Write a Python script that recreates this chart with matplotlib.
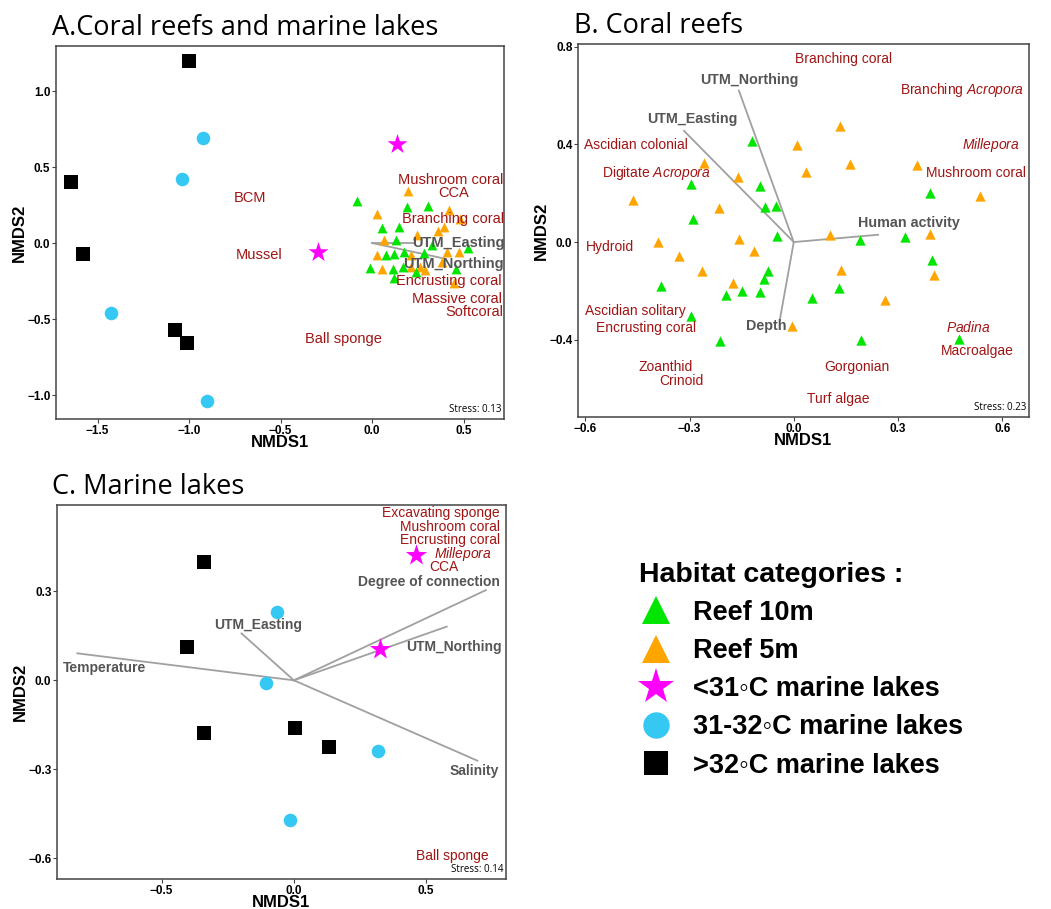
import numpy as np
import matplotlib.pyplot as plt
from matplotlib.lines import Line2D

plt.rcParams['font.family'] = ['Liberation Sans', 'DejaVu Sans']
plt.rcParams['mathtext.fontset'] = 'custom'
plt.rcParams['mathtext.rm'] = 'Liberation Sans'
plt.rcParams['mathtext.it'] = 'Liberation Sans:italic'

GREEN = '#00e600'
ORANGE = '#ffa500'
MAGENTA = '#ff00ff'
BLUE = '#35c8f2'
BLACK = '#000000'
SPECIES = '#a01414'
VECTOR = '#555555'
LINE = '#a0a0a0'

# ---- A. Coral reefs and marine lakes ----
a_reef10_x = [-0.083, 0.19, 0.306, 0.052, 0.148, 0.13, 0.324, 0.524, 0.074, 0.12, 0.176, 0.283,
              -0.013, 0.111, 0.167, 0.241, 0.12, 0.459]
a_reef10_y = [0.279, 0.236, 0.247, 0.098, 0.105, 0.022, -0.015, -0.031, -0.081, -0.07, -0.059, -0.066,
              -0.162, -0.17, -0.157, -0.19, -0.227, -0.168]
a_reef5_x = [0.194, 0.028, 0.417, 0.481, 0.246, 0.361, 0.394, 0.065, 0.024, 0.056, 0.213, 0.407,
             0.472, 0.259, 0.287, 0.38, 0.444, 0.213]
a_reef5_y = [0.345, 0.192, 0.218, 0.159, 0.05, 0.079, 0.105, 0.022, -0.081, -0.168, -0.081, -0.059,
             -0.059, -0.157, -0.175, -0.124, -0.266, -0.157]
a_lt31_x = [0.135, -0.296]
a_lt31_y = [0.655, -0.059]
a_31_32_x = [-0.926, -1.041, -1.428, -0.902]
a_31_32_y = [0.694, 0.419, -0.463, -1.041]
a_gt32_x = [-1.0, -1.644, -1.578, -1.078, -1.009]
a_gt32_y = [1.197, 0.404, -0.074, -0.572, -0.659]
a_species = ['Mushroom coral', 'CCA', 'BCM', 'Branching coral', 'Mussel', 'Encrusting coral',
             'Massive coral', 'Softcoral', 'Ball sponge']
a_species_x = [0.426, 0.444, -0.667, 0.439, -0.62, 0.42, 0.465, 0.556, -0.157]
a_species_y = [0.417, 0.328, 0.297, 0.159, -0.081, -0.251, -0.369, -0.452, -0.633]
a_vectors = ['UTM_Easting', 'UTM_Northing']
a_vec_x = [0.22, 0.398]
a_vec_y = [0.0, -0.103]
a_vec_label_x = [0.472, 0.444]
a_vec_label_y = [0.0, -0.135]

# ---- B. Coral reefs ----
b_reef5_x = [0.132, 0.008, -0.258, 0.163, 0.035, -0.16, 0.356, -0.463, -0.215, 0.536, -0.391,
             -0.158, 0.104, 0.392, -0.114, -0.33, -0.264, 0.137, 0.404, -0.175, 0.262, -0.004]
b_reef5_y = [0.476, 0.399, 0.326, 0.319, 0.289, 0.266, 0.314, 0.173, 0.138, 0.19, 0.0, 0.014,
             0.027, 0.034, -0.038, -0.056, -0.12, -0.116, -0.137, -0.168, -0.236, -0.343]
b_reef10_x = [-0.12, -0.295, -0.096, -0.084, -0.05, -0.29, -0.047, 0.19, 0.32, 0.392, 0.399, -0.074,
              -0.086, -0.381, -0.194, -0.148, -0.096, 0.053, 0.13, -0.295, -0.213, 0.195, 0.476]
b_reef10_y = [0.416, 0.238, 0.231, 0.142, 0.149, 0.096, 0.023, 0.01, 0.02, 0.201, -0.072, -0.12,
              -0.152, -0.179, -0.216, -0.202, -0.206, -0.229, -0.188, -0.302, -0.407, -0.403, -0.397]
b_species = ['Branching coral', 'Branching $\\mathit{Acropora}$', 'Ascidian colonial', '$\\mathit{Millepora}$',
             'Digitate $\\mathit{Acropora}$', 'Mushroom coral', 'Hydroid', 'Ascidian solitary',
             'Encrusting coral', '$\\mathit{Padina}$', 'Macroalgae', 'Zoanthid', 'Crinoid', 'Gorgonian',
             'Turf algae']
b_species_x = [0.144, 0.485, -0.453, 0.567, -0.396, 0.524, -0.53, -0.456, -0.424, 0.502, 0.529,
               -0.37, -0.324, 0.183, 0.128]
b_species_y = [0.751, 0.624, 0.399, 0.396, 0.283, 0.283, -0.022, -0.284, -0.352, -0.349, -0.448,
               -0.512, -0.571, -0.512, -0.643]
b_vectors = ['UTM_Northing', 'UTM_Easting', 'Human activity', 'Depth']
b_vec_x = [-0.158, -0.316, 0.243, -0.04]
b_vec_y = [0.621, 0.456, 0.03, -0.318]
b_vec_label_x = [-0.129, -0.293, 0.331, -0.079]
b_vec_label_y = [0.665, 0.504, 0.078, -0.345]

# ---- C. Marine lakes ----
c_lt31_x = [0.462, 0.326]
c_lt31_y = [0.422, 0.106]
c_31_32_x = [-0.063, -0.104, 0.319, -0.015]
c_31_32_y = [0.231, -0.01, -0.238, -0.471]
c_gt32_x = [-0.341, -0.403, -0.341, 0.006, 0.134]
c_gt32_y = [0.4, 0.113, -0.179, -0.162, -0.226]
c_species = ['Excavating sponge', 'Mushroom coral', 'Encrusting coral', '$\\mathit{Millepora}$', 'CCA',
             'Ball sponge']
c_species_x = [0.556, 0.591, 0.591, 0.641, 0.566, 0.6]
c_species_y = [0.565, 0.518, 0.473, 0.425, 0.381, -0.592]
c_vectors = ['Temperature', 'UTM_Easting', 'Degree of connection', 'UTM_Northing', 'Salinity']
c_vec_x = [-0.819, -0.198, 0.726, 0.578, 0.694]
c_vec_y = [0.091, 0.158, 0.304, 0.181, -0.271]
c_vec_label_x = [-0.716, -0.135, 0.509, 0.606, 0.683]
c_vec_label_y = [0.043, 0.187, 0.33, 0.113, -0.306]

legend_labels = ['Reef 10m', 'Reef 5m', '<31\u25e6C marine lakes', '31-32\u25e6C marine lakes',
                 '>32\u25e6C marine lakes']


def style_axes(ax, title, xlim, ylim, xticks, yticks, stress):
    ax.set_xlim(xlim)
    ax.set_ylim(ylim)
    ax.set_xticks(xticks)
    ax.set_yticks(yticks)
    ax.set_xticklabels([('%.1f' % t).replace('-', '\u2212') for t in xticks])
    ax.set_yticklabels([('%.1f' % t).replace('-', '\u2212') for t in yticks])
    for s in ax.spines.values():
        s.set_color('#444444')
        s.set_linewidth(1.1)
    ax.tick_params(direction='out', length=3, width=0.8, color='#444444', labelsize=8.5, pad=1)
    for lab in ax.get_xticklabels() + ax.get_yticklabels():
        lab.set_fontweight('bold')
    ax.set_xlabel('NMDS1', fontsize=12, fontweight='bold', labelpad=-1)
    ax.set_ylabel('NMDS2', fontsize=12, fontweight='bold', labelpad=0)
    ax.set_title(title, fontsize=19.5, family='Open Sans', loc='left', x=-0.01, pad=8)
    ax.text(0.995, 0.01, 'Stress: ' + stress, transform=ax.transAxes, ha='right', va='bottom',
            fontsize=7, family='Open Sans')


def draw_vectors(ax, vx, vy, names, lx, ly, fs):
    for x, y in zip(vx, vy):
        ax.plot([0, x], [0, y], color=LINE, lw=1.3, zorder=1)
    for n, x, y in zip(names, lx, ly):
        ax.text(x, y, n, ha='center', va='center', color=VECTOR, fontsize=fs, fontweight='bold', zorder=5)


def draw_species(ax, names, sx, sy, fs):
    for n, x, y in zip(names, sx, sy):
        ax.text(x, y, n, ha='center', va='center', color=SPECIES, fontsize=fs, zorder=5)


fig = plt.figure(figsize=(10.51, 9.09), dpi=100)

# panel A
axA = fig.add_axes([0.0533, 0.539, 0.4263, 0.4103])
axA.scatter(a_reef5_x, a_reef5_y, marker='^', s=50, color=ORANGE, zorder=3, linewidths=0)
axA.scatter(a_reef10_x, a_reef10_y, marker='^', s=50, color=GREEN, zorder=3, linewidths=0)
axA.scatter(a_lt31_x, a_lt31_y, marker='*', s=230, color=MAGENTA, zorder=3, linewidths=0)
axA.scatter(a_31_32_x, a_31_32_y, marker='o', s=95, color=BLUE, zorder=3, linewidths=0)
axA.scatter(a_gt32_x, a_gt32_y, marker='s', s=95, color=BLACK, zorder=3, linewidths=0)
draw_vectors(axA, a_vec_x, a_vec_y, a_vectors, a_vec_label_x, a_vec_label_y, 10.5)
draw_species(axA, a_species, a_species_x, a_species_y, 10.5)
style_axes(axA, 'A.Coral reefs and marine lakes', (-1.727, 0.72), (-1.158, 1.296),
           [-1.5, -1.0, -0.5, 0.0, 0.5], [-1.0, -0.5, 0.0, 0.5, 1.0], '0.13')

# panel B
axB = fig.add_axes([0.55, 0.5413, 0.429, 0.4103])
axB.scatter(b_reef5_x, b_reef5_y, marker='^', s=55, color=ORANGE, zorder=3, linewidths=0)
axB.scatter(b_reef10_x, b_reef10_y, marker='^', s=55, color=GREEN, zorder=3, linewidths=0)
draw_vectors(axB, b_vec_x, b_vec_y, b_vectors, b_vec_label_x, b_vec_label_y, 10.3)
draw_species(axB, b_species, b_species_x, b_species_y, 10)
style_axes(axB, 'B. Coral reefs', (-0.621, 0.677), (-0.717, 0.812),
           [-0.6, -0.3, 0.0, 0.3, 0.6], [-0.4, 0.0, 0.4, 0.8], '0.23')

# panel C
axC = fig.add_axes([0.0542, 0.033, 0.4272, 0.4114])
axC.scatter(c_lt31_x, c_lt31_y, marker='*', s=260, color=MAGENTA, zorder=3, linewidths=0)
axC.scatter(c_31_32_x, c_31_32_y, marker='o', s=95, color=BLUE, zorder=3, linewidths=0)
axC.scatter(c_gt32_x, c_gt32_y, marker='s', s=105, color=BLACK, zorder=3, linewidths=0)
draw_vectors(axC, c_vec_x, c_vec_y, c_vectors, c_vec_label_x, c_vec_label_y, 10)
draw_species(axC, c_species, c_species_x, c_species_y, 10)
style_axes(axC, 'C. Marine lakes', (-0.896, 0.802), (-0.670, 0.591),
           [-0.5, 0.0, 0.5], [-0.6, -0.3, 0.0, 0.3], '0.14')

# legend
handles = [Line2D([], [], ls='', marker='^', ms=20, color=GREEN, mew=0),
           Line2D([], [], ls='', marker='^', ms=20, color=ORANGE, mew=0),
           Line2D([], [], ls='', marker='*', ms=27, color=MAGENTA, mew=0),
           Line2D([], [], ls='', marker='o', ms=19, color=BLUE, mew=0),
           Line2D([], [], ls='', marker='s', ms=17, color=BLACK, mew=0)]
leg = fig.legend(handles, legend_labels, loc='upper left', bbox_to_anchor=(0.598, 0.394),
                 frameon=False, title='Habitat categories :', alignment='left',
                 prop={'weight': 'bold', 'size': 19.5}, labelspacing=0.45, handletextpad=0.8,
                 handlelength=1.2, borderaxespad=0)
leg.get_title().set_fontsize(20.5)
leg.get_title().set_fontweight('bold')

fig.savefig('out.png', dpi=100)
